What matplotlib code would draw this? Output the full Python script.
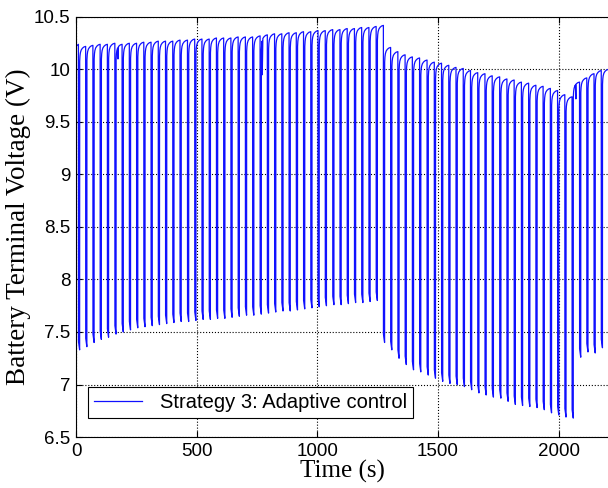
import numpy as np
import matplotlib.pyplot as plt

# pulse start times (s)
pulse_t = [10, 40, 70, 100, 130, 161, 191, 221, 251, 281, 311, 341, 371, 401,
           431, 462, 492, 522, 552, 582, 612, 642, 672, 702, 732, 763, 793, 823,
           853, 883, 913, 943, 973, 1003, 1033, 1064, 1094, 1124, 1154, 1184,
           1214, 1244, 1274,
           1304, 1334, 1364, 1394, 1424, 1455, 1485, 1515, 1545, 1575, 1605,
           1635, 1665, 1695, 1725, 1756, 1786, 1816, 1846, 1876, 1906, 1936,
           1966, 1996, 2026, 2056, 2087, 2117, 2147, 2177]
# lowest voltage in each pulse
pulse_low = [7.33, 7.36, 7.40, 7.43, 7.45, 7.48, 7.50, 7.52, 7.54, 7.55, 7.56,
             7.57, 7.58, 7.59, 7.60, 7.60, 7.61, 7.62, 7.62, 7.63, 7.63, 7.64,
             7.65, 7.66, 7.66, 7.67, 7.68, 7.69, 7.70, 7.70, 7.71, 7.72, 7.73,
             7.74, 7.75, 7.76, 7.76, 7.77, 7.78, 7.78, 7.79, 7.80, 7.40,
             7.33, 7.25, 7.19, 7.14, 7.12, 7.09, 7.06, 7.03, 7.01, 7.00, 6.98,
             6.95, 6.92, 6.90, 6.88, 6.87, 6.84, 6.81, 6.80, 6.79, 6.78, 6.76,
             6.73, 6.71, 6.69, 6.68, 7.26, 7.31, 7.30, 7.35]
# voltage just before each pulse
peak_v = [10.24, 10.22, 10.23, 10.24, 10.24, 10.25, 10.24, 10.25, 10.25, 10.26,
          10.26, 10.27, 10.27, 10.27, 10.28, 10.28, 10.29, 10.29, 10.29, 10.30,
          10.30, 10.30, 10.31, 10.31, 10.31, 10.32, 10.33, 10.34, 10.34, 10.35,
          10.35, 10.36, 10.36, 10.37, 10.37, 10.38, 10.38, 10.39, 10.39, 10.40,
          10.40, 10.41, 10.42,
          10.21, 10.17, 10.14, 10.12, 10.11, 10.09, 10.07, 10.06, 10.04, 10.02,
          10.01, 9.99, 9.97, 9.96, 9.94, 9.93, 9.91, 9.90, 9.88, 9.87, 9.85,
          9.84, 9.82, 9.80, 9.76, 9.74, 9.88, 9.92, 9.96, 9.99]
end_t, end_v = 2205, 10.00

# recovery after a pulse: fraction of the gap, offset below next peak
rec_frac = [0.0, 0.05, 0.12, 0.25, 0.45, 0.7, 1.0]
rec_off = [0.14, 0.09, 0.06, 0.035, 0.018, 0.006, 0.0]
pulse_w = 5

# small extra dips seen on the trace
dip_t = [174, 772, 2072]
dip_v = [10.10, 9.95, 9.72]

t = [0.0]
v = [peak_v[0] - 0.02]
next_t = pulse_t[1:] + [end_t]
next_pk = peak_v[1:] + [end_v]
for tp, lo, pk, tn, pn in zip(pulse_t, pulse_low, peak_v, next_t, next_pk):
    t += [tp, tp + 0.3, tp + pulse_w]
    v += [pk, lo + 0.08, lo]
    t0 = tp + pulse_w + 0.3
    for f, off in zip(rec_frac, rec_off):
        t.append(t0 + f * (tn - t0))
        v.append(pn - off)
t = np.array(t)
v = np.array(v)
for td, vd in zip(dip_t, dip_v):
    et = np.array([td - 2, td, td + 2])
    ev = np.array([np.interp(td - 2, t, v), vd, np.interp(td + 2, t, v)])
    t = np.concatenate([t, et])
    v = np.concatenate([v, ev])
    order = np.argsort(t, kind='stable')
    t, v = t[order], v[order]

fig = plt.figure(figsize=(6.08, 4.88), dpi=100)
ax = fig.add_axes([0.125, 0.1045, 0.875, 0.8607])

ax.plot(t, v, color='#1010ff', lw=0.9, label='Strategy 3: Adaptive control')

ax.set_xlim(0, 2205)
ax.set_ylim(6.5, 10.5)
ax.set_xticks([0, 500, 1000, 1500, 2000])
ax.set_yticks(np.arange(6.5, 10.51, 0.5))
ax.set_yticklabels(['6.5', '7', '7.5', '8', '8.5', '9', '9.5', '10', '10.5'])
ax.tick_params(direction='in', top=True, length=4, labelsize=13.5, pad=4)
for lab in ax.get_xticklabels() + ax.get_yticklabels():
    lab.set_family('Liberation Sans')
ax.spines['right'].set_visible(False)
ax.grid(True, linestyle=':', color='k', linewidth=0.8)

ax.set_xlabel('Time (s)', family='Liberation Serif', fontsize=18, labelpad=0)
ax.set_ylabel('Battery Terminal Voltage (V)', family='Liberation Serif',
              fontsize=19.5, labelpad=2)

leg = ax.legend(loc='lower left', bbox_to_anchor=(0.022, 0.045),
                borderaxespad=0,
                prop={'family': 'Liberation Sans', 'size': 14.5},
                fancybox=False, framealpha=1, edgecolor='k',
                handlelength=2.4, handletextpad=0.9, borderpad=0.3)
leg.get_frame().set_linewidth(0.8)

fig.savefig('out.png', dpi=100)
